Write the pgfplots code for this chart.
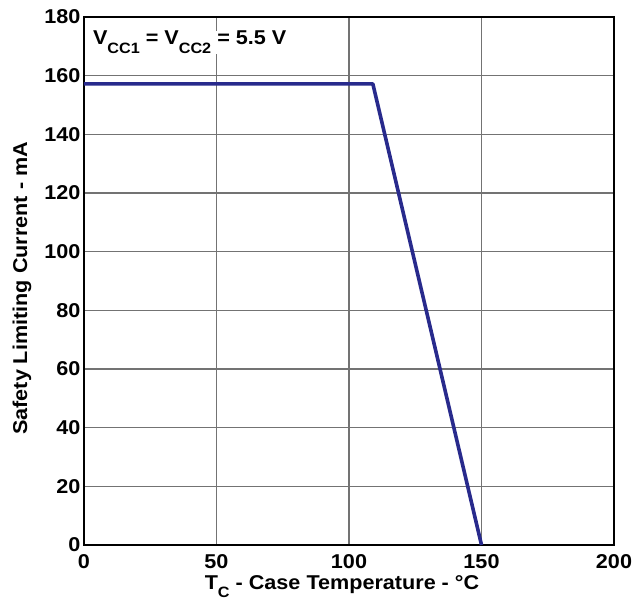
\documentclass[border=0pt]{standalone}
\usepackage{fontspec}
\setmainfont[FakeStretch=1.08]{Liberation Sans}
\usepackage{pgfplots}
\pgfplotsset{compat=1.18}
\definecolor{curve}{RGB}{40,42,140}
\begin{document}
\begin{tikzpicture}[x=1pt,y=1pt]
\begin{axis}[
  name=ax,
  at={(0,0)}, anchor=south west,
  scale only axis,
  width=530pt, height=528pt,
  xmin=0, xmax=200, ymin=0, ymax=180,
  xtick={0,50,...,200}, ytick={0,20,...,180},
  major tick length=0pt,
  grid=major,
  major grid style={draw=black!55, line width=1.4pt},
  axis line style={line width=2.6pt},
  tick label style={font=\fontsize{20}{22}\selectfont\bfseries},
  /pgf/number format/assume math mode=true,
  xticklabel style={yshift=-6pt},
  label style={font=\fontsize{20}{22}\selectfont\bfseries},
  xlabel={T\raisebox{-0.4em}{\fontsize{15}{16}\selectfont C} - Case Temperature - °C},
  ylabel={Safety Limiting Current - mA},
  xlabel style={at={(axis description cs:0.4868,-0.0852)}, anchor=base},
  ylabel style={at={(axis description cs:-0.117,0.486)}, anchor=center},
  clip=false,
]
\addplot[curve, line width=3.6pt, line join=round] coordinates {(0,157.2) (109,157.2) (150,0)};
\node[anchor=base west, font=\fontsize{20}{22}\selectfont\bfseries, fill=white, inner sep=0pt, outer sep=0pt] at (axis cs:3.4,170.5)
  {V\raisebox{-0.45em}{\fontsize{15}{16}\selectfont CC1} = V\raisebox{-0.45em}{\fontsize{15}{16}\selectfont CC2} = 5.5 V};
\end{axis}
\pgfresetboundingbox
\path (-84,-60) rectangle (552,545);
\end{tikzpicture}
\end{document}
